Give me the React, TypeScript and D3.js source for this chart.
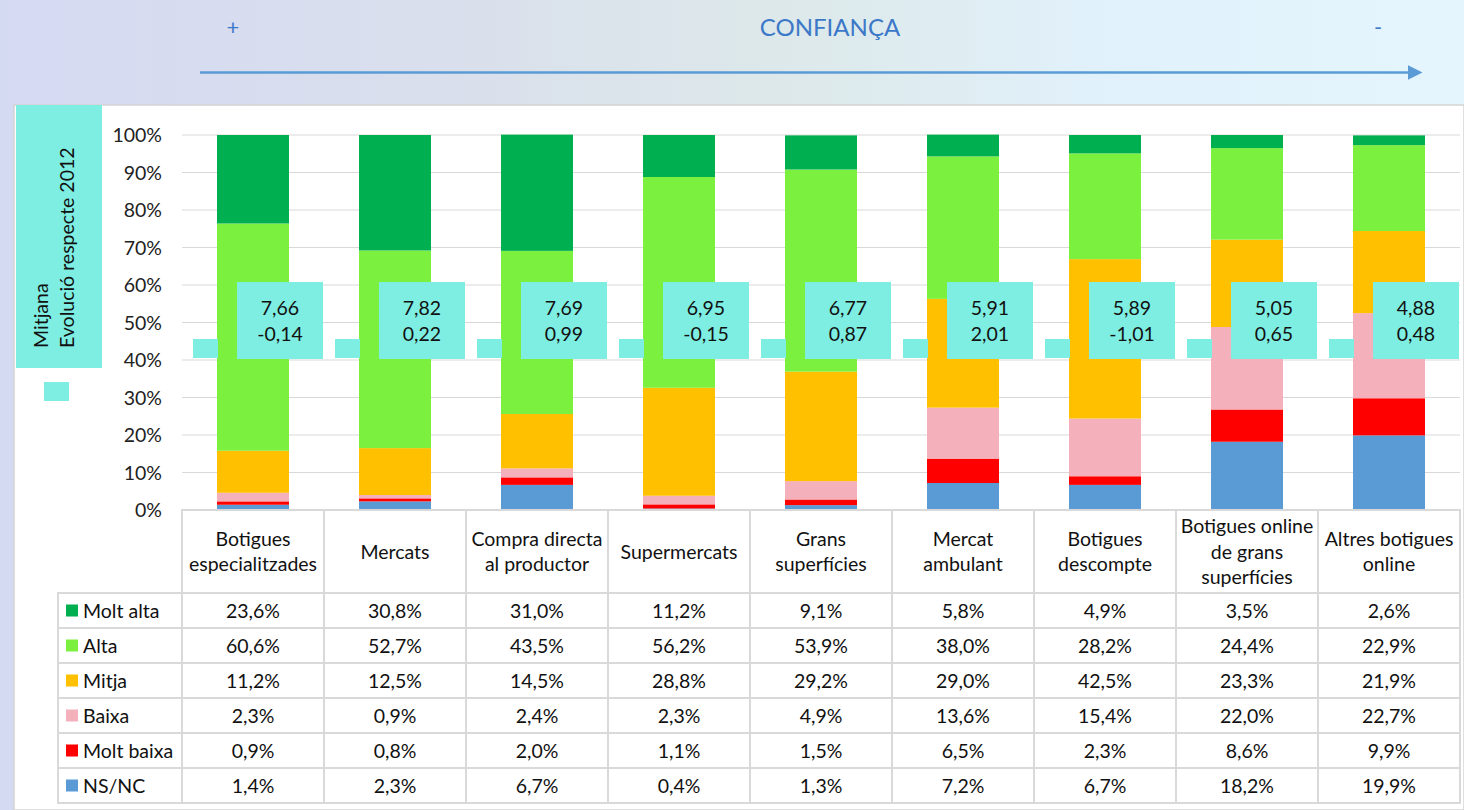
import React, { useEffect, useRef } from "react";
import * as d3 from "d3";

const categories = [
  ["Botigues", "especialitzades"],
  ["Mercats"],
  ["Compra directa", "al productor"],
  ["Supermercats"],
  ["Grans", "superfícies"],
  ["Mercat", "ambulant"],
  ["Botigues", "descompte"],
  ["Botigues online", "de grans", "superfícies"],
  ["Altres botigues", "online"],
];
const seriesNames = ["Molt alta", "Alta", "Mitja", "Baixa", "Molt baixa", "NS/NC"];
const seriesColors = ["#00b050", "#7cf03e", "#ffc000", "#f4b0bb", "#ff0000", "#5b9bd5"];
const moltAlta = [23.6, 30.8, 31.0, 11.2, 9.1, 5.8, 4.9, 3.5, 2.6];
const alta = [60.6, 52.7, 43.5, 56.2, 53.9, 38.0, 28.2, 24.4, 22.9];
const mitja = [11.2, 12.5, 14.5, 28.8, 29.2, 29.0, 42.5, 23.3, 21.9];
const baixa = [2.3, 0.9, 2.4, 2.3, 4.9, 13.6, 15.4, 22.0, 22.7];
const moltBaixa = [0.9, 0.8, 2.0, 1.1, 1.5, 6.5, 2.3, 8.6, 9.9];
const nsnc = [1.4, 2.3, 6.7, 0.4, 1.3, 7.2, 6.7, 18.2, 19.9];
const mitjana = ["7,66", "7,82", "7,69", "6,95", "6,77", "5,91", "5,89", "5,05", "4,88"];
const evolucio = ["-0,14", "0,22", "0,99", "-0,15", "0,87", "2,01", "-1,01", "0,65", "0,48"];
const yTicks = [0, 10, 20, 30, 40, 50, 60, 70, 80, 90, 100];

const W = 1464;
const H = 810;
const FONT = "Lato, 'Open Sans', sans-serif";
const FS = 19.5;

export default function App() {
  const ref = useRef<SVGSVGElement | null>(null);
  useEffect(() => {
    const svg = d3.select(ref.current);
    svg.selectAll("*").remove();
    const defs = svg.append("defs");
    const grad = defs.append("linearGradient").attr("id", "bg").attr("x1", "0").attr("x2", "1").attr("y1", "0").attr("y2", "0");
    grad.append("stop").attr("offset", "0").attr("stop-color", "#d5daf3");
    grad.append("stop").attr("offset", "0.3").attr("stop-color", "#d9dfec");
    grad.append("stop").attr("offset", "0.55").attr("stop-color", "#dde9ea");
    grad.append("stop").attr("offset", "0.75").attr("stop-color", "#e1f1fb");
    grad.append("stop").attr("offset", "1").attr("stop-color", "#e4f5fd");
    const mk = defs.append("marker").attr("id", "arrow").attr("viewBox", "0 0 10 10").attr("refX", 1).attr("refY", 5)
      .attr("markerWidth", 6).attr("markerHeight", 6).attr("orient", "auto").attr("markerUnits", "strokeWidth");
    mk.append("path").attr("d", "M0,0 L10,5 L0,10 z").attr("fill", "#5b9bd5");

    svg.append("rect").attr("x", 0).attr("y", 0).attr("width", W).attr("height", H).attr("fill", "url(#bg)");

    // header
    svg.append("text").attr("x", 233).attr("y", 35).attr("text-anchor", "middle").attr("fill", "#3c78c8")
      .attr("font-family", FONT).attr("font-size", 22).text("+");
    svg.append("text").attr("x", 830).attr("y", 36).attr("text-anchor", "middle").attr("fill", "#3c78c8")
      .attr("font-family", FONT).attr("font-size", 24).text("CONFIANÇA");
    svg.append("text").attr("x", 1378).attr("y", 35).attr("text-anchor", "middle").attr("fill", "#3c78c8")
      .attr("font-family", FONT).attr("font-size", 22).text("-");
    svg.append("line").attr("x1", 200).attr("x2", 1409).attr("y1", 72.5).attr("y2", 72.5)
      .attr("stroke", "#5b9bd5").attr("stroke-width", 2.5).attr("marker-end", "url(#arrow)");

    // white area
    svg.append("rect").attr("x", 14).attr("y", 105).attr("width", W - 14).attr("height", H - 105)
      .attr("fill", "#ffffff").attr("stroke", "#d4d4d4").attr("stroke-width", 1.5);

    const plotLeft = 182;
    const colW = 142;
    const x = d3.scaleBand<number>().domain(d3.range(categories.length)).range([plotLeft, plotLeft + colW * categories.length]).paddingInner(0).paddingOuter(0);
    const y = d3.scaleLinear().domain([0, 100]).range([510, 135]);

    // gridlines
    svg.append("g").selectAll("line").data(yTicks).join("line")
      .attr("x1", plotLeft).attr("x2", plotLeft + colW * categories.length)
      .attr("y1", (d) => y(d)).attr("y2", (d) => y(d)).attr("stroke", "#d9d9d9").attr("stroke-width", 1.2);
    svg.append("g").selectAll("text").data(yTicks).join("text")
      .attr("x", 162).attr("y", (d) => y(d) + 7).attr("text-anchor", "end").attr("font-family", FONT)
      .attr("font-size", FS).attr("fill", "#222").text((d) => d + "%");

    // stacked bars (bottom to top)
    const stackOrder = [nsnc, moltBaixa, baixa, mitja, alta, moltAlta];
    const stackColors = [seriesColors[5], seriesColors[4], seriesColors[3], seriesColors[2], seriesColors[1], seriesColors[0]];
    const rows = categories.map((_, i) => {
      const o: Record<string, number> = {};
      stackOrder.forEach((s, k) => (o["s" + k] = s[i]));
      return o;
    });
    const stacked = d3.stack<Record<string, number>>().keys(stackOrder.map((_, k) => "s" + k))(rows);
    const barW = 72;
    stacked.forEach((layer, k) => {
      svg.append("g").selectAll("rect").data(layer).join("rect")
        .attr("x", (_, i) => x(i)! + (colW - barW) / 2)
        .attr("width", barW)
        .attr("y", (d) => y(d[1]))
        .attr("height", (d) => y(d[0]) - y(d[1]))
        .attr("fill", stackColors[k]);
    });

    // label boxes
    const cyan = "#7eeee2";
    categories.forEach((_, i) => {
      const bl = x(i)! + (colW - barW) / 2;
      svg.append("rect").attr("x", bl - 24).attr("y", 339).attr("width", 25).attr("height", 19).attr("fill", cyan);
      svg.append("rect").attr("x", bl + 20).attr("y", 282).attr("width", 86).attr("height", 77).attr("fill", cyan);
      svg.append("text").attr("x", bl + 63).attr("y", 315).attr("text-anchor", "middle").attr("font-family", FONT)
        .attr("font-size", FS).attr("fill", "#111").text(mitjana[i]);
      svg.append("text").attr("x", bl + 63).attr("y", 341).attr("text-anchor", "middle").attr("font-family", FONT)
        .attr("font-size", FS).attr("fill", "#111").text(evolucio[i]);
    });

    // left legend box
    svg.append("rect").attr("x", 16).attr("y", 105).attr("width", 86).attr("height", 263).attr("fill", cyan);
    svg.append("text").attr("transform", "translate(48,348) rotate(-90)").attr("font-family", FONT)
      .attr("font-size", FS).attr("fill", "#111").text("Mitjana");
    svg.append("text").attr("transform", "translate(74,348) rotate(-90)").attr("font-family", FONT)
      .attr("font-size", FS).attr("fill", "#111").text("Evolució respecte 2012");
    svg.append("rect").attr("x", 44).attr("y", 382).attr("width", 25).attr("height", 19).attr("fill", cyan);

    // table
    const tableTop = 510;
    const headH = 83;
    const rowH = 35;
    const tableLeft = 58;
    const tg = svg.append("g");
    const border = "#d9d9d9";
    categories.forEach((lines, i) => {
      tg.append("rect").attr("x", x(i)!).attr("y", tableTop).attr("width", colW).attr("height", headH)
        .attr("fill", "none").attr("stroke", border).attr("stroke-width", 2);
      const cx = x(i)! + colW / 2;
      const lh = 25.5;
      const startY = tableTop + headH / 2 - ((lines.length - 1) * lh) / 2 + 7;
      lines.forEach((ln, j) => {
        tg.append("text").attr("x", cx).attr("y", startY + j * lh).attr("text-anchor", "middle")
          .attr("font-family", FONT).attr("font-size", FS).attr("fill", "#111").text(ln);
      });
    });
    const seriesData = [moltAlta, alta, mitja, baixa, moltBaixa, nsnc];
    seriesData.forEach((vals, r) => {
      const ry = tableTop + headH + r * rowH;
      tg.append("rect").attr("x", tableLeft).attr("y", ry).attr("width", plotLeft - tableLeft).attr("height", rowH)
        .attr("fill", "none").attr("stroke", border).attr("stroke-width", 2);
      tg.append("rect").attr("x", 66).attr("y", ry + rowH / 2 - 6).attr("width", 12).attr("height", 12).attr("fill", seriesColors[r]);
      tg.append("text").attr("x", 83).attr("y", ry + rowH / 2 + 7).attr("font-family", FONT).attr("font-size", FS)
        .attr("fill", "#111").text(seriesNames[r]);
      vals.forEach((v, i) => {
        tg.append("rect").attr("x", x(i)!).attr("y", ry).attr("width", colW).attr("height", rowH)
          .attr("fill", "none").attr("stroke", border).attr("stroke-width", 2);
        tg.append("text").attr("x", x(i)! + colW / 2).attr("y", ry + rowH / 2 + 7).attr("text-anchor", "middle")
          .attr("font-family", FONT).attr("font-size", FS).attr("fill", "#111").text(v.toFixed(1).replace(".", ",") + "%");
      });
    });
  }, []);
  return (
    <svg ref={ref} width={W} height={H} style={{ position: "absolute", left: 0, top: 0, display: "block" }} />
  );
}
